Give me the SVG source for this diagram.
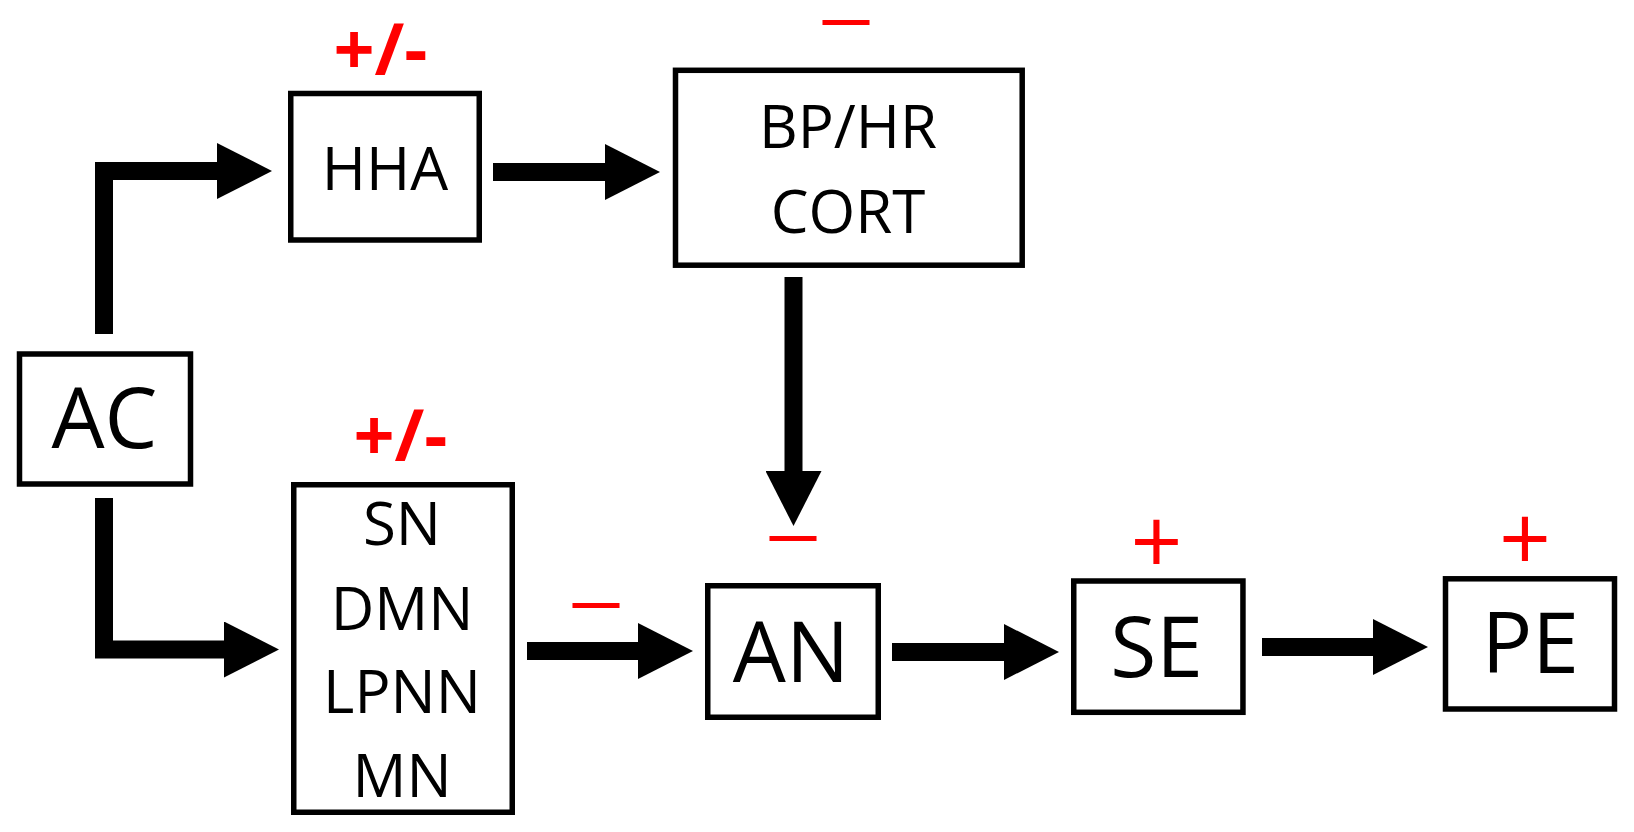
<svg xmlns="http://www.w3.org/2000/svg" width="1634" height="832" viewBox="0 0 1634 832">
  <style>
    .box { fill: #ffffff; stroke: #000000; stroke-width: 5.5; }
    .lbl { font-family: "Open Sans", "Noto Sans", "Liberation Sans", sans-serif; fill: #000000; text-anchor: middle; }
    .sm { font-size: 60px; }
    .lg { font-size: 84px; }
    .sign { font-family: "Open Sans", "Noto Sans", "Liberation Sans", sans-serif; fill: #ff0000; text-anchor: middle; }
    .pm { font-size: 72px; font-weight: 700; }
    .plus { font-size: 91px; font-weight: 400; }
    .minus { font-size: 112px; font-weight: 300; }
    .conn { fill: none; stroke: #000000; stroke-width: 18; stroke-linecap: butt; stroke-linejoin: miter; marker-end: url(#head); }
  </style>
  <defs>
    <marker id="head" markerUnits="userSpaceOnUse" viewBox="0 0 55 56" markerWidth="55" markerHeight="56" refX="0" refY="28" orient="auto">
      <path d="M0,0 L55,28 L0,56 Z" fill="#000000"/>
    </marker>
  </defs>
  <rect width="1634" height="832" fill="#ffffff"/>

  <g id="connectors">
    <path class="conn" d="M104,334 V171 H217"/>
    <path class="conn" d="M493,172 H605"/>
    <path class="conn" d="M793.5,277 V471"/>
    <path class="conn" d="M104,498 V649.5 H224"/>
    <path class="conn" d="M527,651 H638"/>
    <path class="conn" d="M892,652 H1004"/>
    <path class="conn" d="M1262,647 H1373"/>
  </g>

  <g id="node-AC">
    <rect class="box" x="19.5" y="354" width="171" height="130"/>
    <text class="lbl lg" x="104.5" y="447.7">AC</text>
  </g>

  <g id="node-HHA">
    <rect class="box" x="290.75" y="93.5" width="188.5" height="146.5"/>
    <text class="lbl sm" x="385" y="190">HHA</text>
    <text class="sign pm" x="380.5" y="75">+/-</text>
  </g>

  <g id="node-BPHR">
    <rect class="box" x="675.5" y="70.3" width="346.7" height="194.9"/>
    <text class="lbl sm" x="848" y="148">BP/HR</text>
    <text class="lbl sm" x="848" y="232.7">CORT</text>
    <text class="sign minus" x="846" y="52.5">–</text>
  </g>

  <g id="node-SN">
    <rect class="box" x="293.75" y="484.75" width="218.5" height="327.5"/>
    <text class="lbl sm" x="402" y="545">SN</text>
    <text class="lbl sm" x="402" y="630">DMN</text>
    <text class="lbl sm" x="402" y="713">LPNN</text>
    <text class="lbl sm" x="402" y="797">MN</text>
    <text class="sign pm" x="400.5" y="461">+/-</text>
  </g>

  <g id="label-SN-AN">
    <text class="sign minus" x="596" y="636">–</text>
  </g>

  <g id="node-AN">
    <rect class="box" x="707.75" y="585.75" width="170.5" height="131.5"/>
    <text class="lbl lg" x="791" y="682">AN</text>
    <text class="sign minus" x="793" y="568.5">–</text>
  </g>

  <g id="node-SE">
    <rect class="box" x="1073.75" y="581" width="169.2" height="131.3"/>
    <text class="lbl lg" x="1156.7" y="676.7">SE</text>
    <text class="sign plus" x="1156.4" y="574">+</text>
  </g>

  <g id="node-PE">
    <rect class="box" x="1445.5" y="578.8" width="169" height="130.2"/>
    <text class="lbl lg" x="1530.3" y="672.7">PE</text>
    <text class="sign plus" x="1525" y="571">+</text>
  </g>
</svg>
